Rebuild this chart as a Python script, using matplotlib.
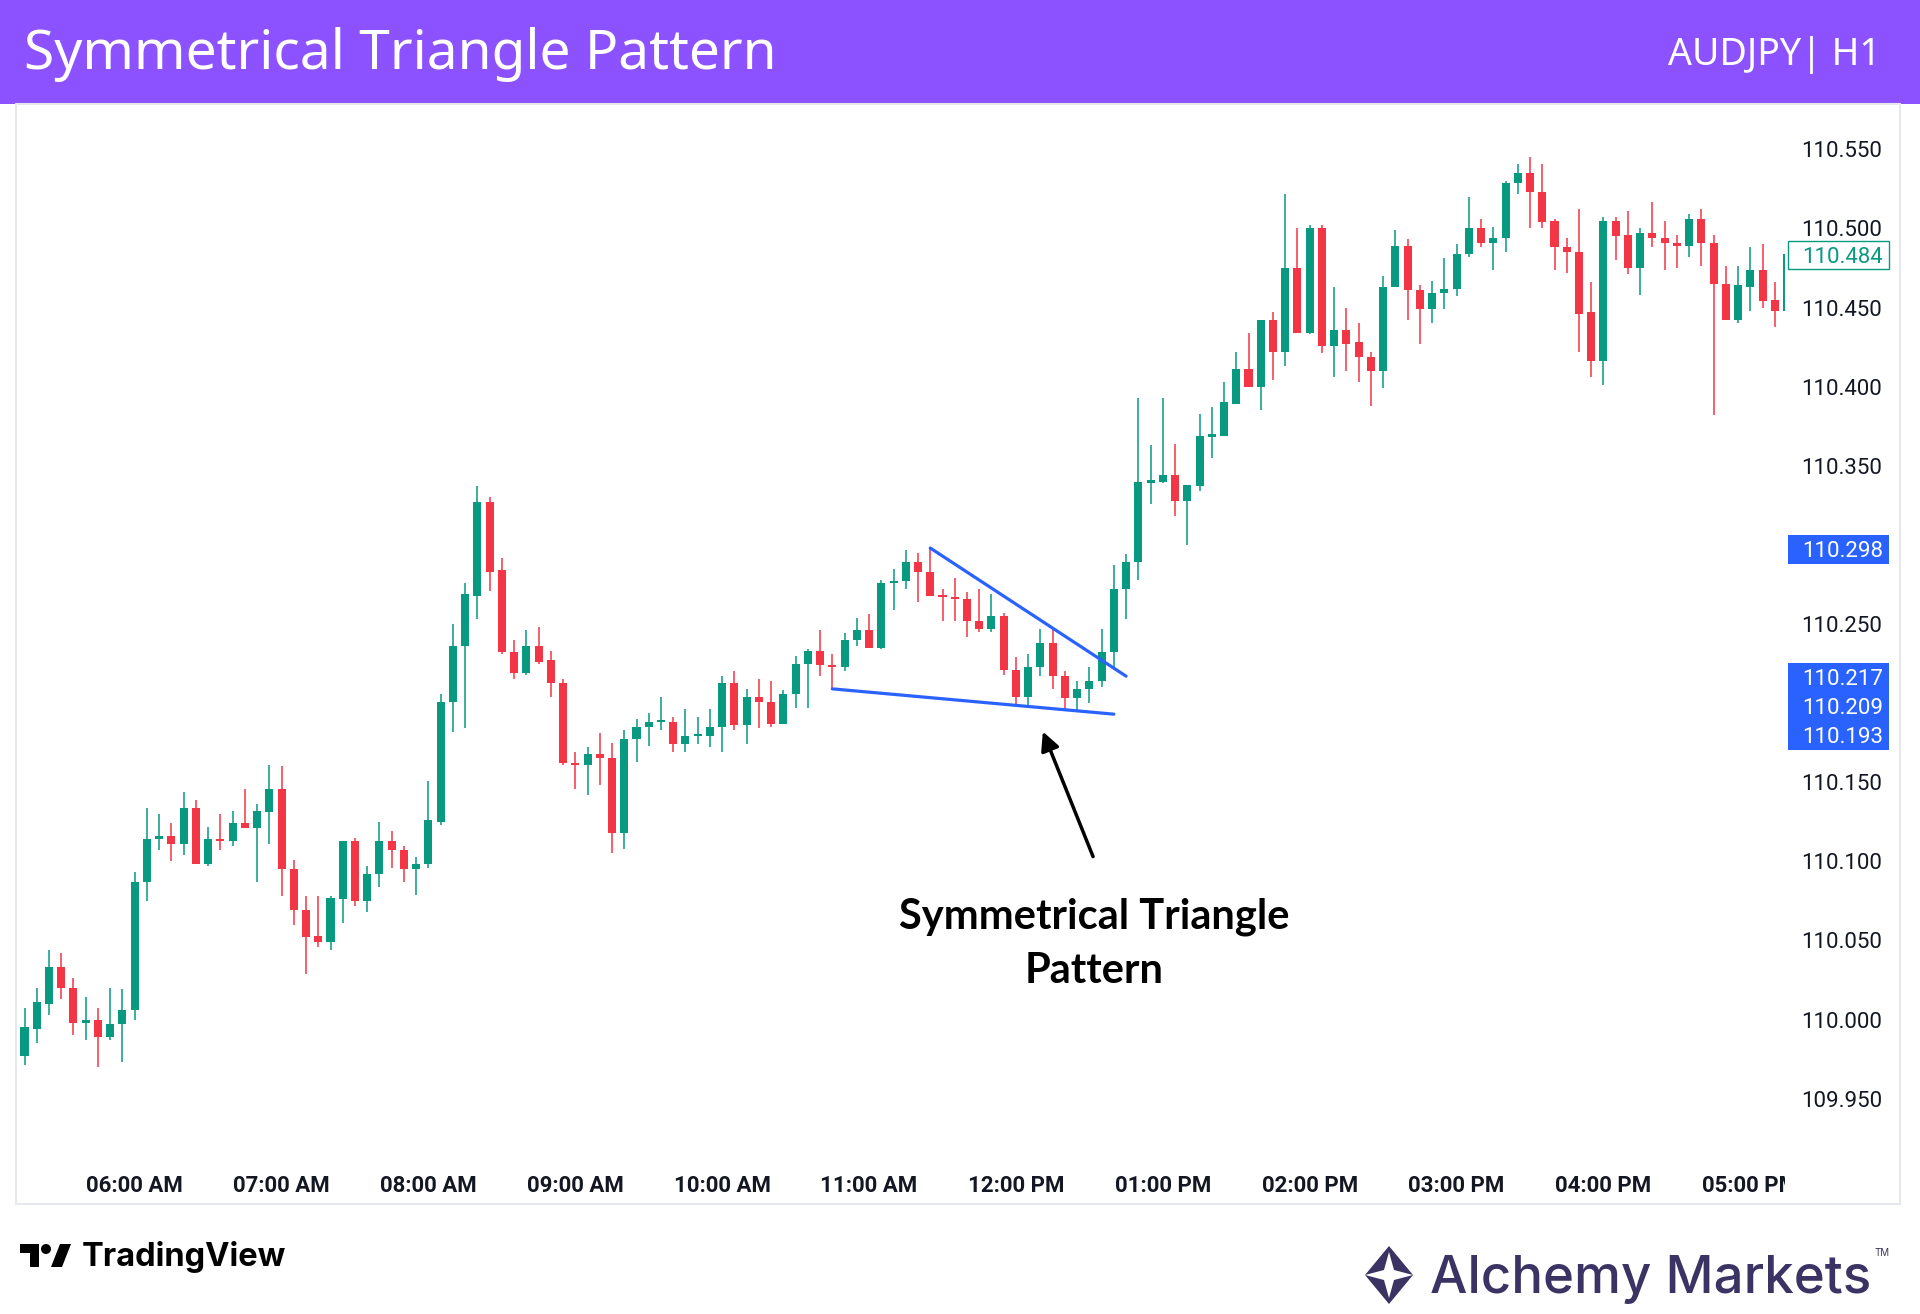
import matplotlib
matplotlib.use('Agg')
import matplotlib.pyplot as plt
import numpy as np
from matplotlib.patches import Rectangle, Polygon, Ellipse
from matplotlib.transforms import blended_transform_factory, Bbox, TransformedBbox

plt.rcParams['font.family'] = ['Roboto', 'DejaVu Sans']

# ---------------- data ----------------
opens = [109.977, 109.994, 110.010, 110.033, 110.020, 109.998, 110.000, 109.989, 109.997, 110.006,
         110.087, 110.114, 110.116, 110.111, 110.134, 110.098, 110.114, 110.113, 110.124, 110.121,
         110.131, 110.146, 110.095, 110.069, 110.053, 110.049, 110.076, 110.113, 110.075, 110.092,
         110.113, 110.107, 110.095, 110.098, 110.125, 110.201, 110.236, 110.268, 110.327, 110.284,
         110.232, 110.219, 110.236, 110.227, 110.213, 110.162, 110.161, 110.168, 110.165, 110.118,
         110.177, 110.185, 110.188, 110.188, 110.174, 110.179, 110.179, 110.185, 110.213, 110.186,
         110.204, 110.201, 110.187, 110.206, 110.225, 110.233, 110.224, 110.223, 110.240, 110.246,
         110.235, 110.276, 110.277, 110.289, 110.283, 110.268, 110.267, 110.266, 110.252, 110.247,
         110.255, 110.221, 110.204, 110.223, 110.238, 110.217, 110.203, 110.209, 110.214, 110.232,
         110.272, 110.289, 110.339, 110.340, 110.344, 110.328, 110.337, 110.368, 110.369, 110.389,
         110.411, 110.400, 110.442, 110.422, 110.475, 110.434, 110.500, 110.426, 110.436, 110.428,
         110.419, 110.410, 110.463, 110.489, 110.461, 110.449, 110.459, 110.462, 110.484, 110.500,
         110.491, 110.494, 110.529, 110.535, 110.523, 110.505, 110.488, 110.485, 110.447, 110.416,
         110.505, 110.496, 110.475, 110.497, 110.494, 110.491, 110.489, 110.506, 110.491, 110.465,
         110.442, 110.463, 110.474, 110.455, 110.448]
highs = [110.007, 110.020, 110.044, 110.042, 110.026, 110.014, 110.007, 110.020, 110.019, 110.093,
         110.134, 110.130, 110.124, 110.144, 110.139, 110.122, 110.130, 110.132, 110.146, 110.136,
         110.161, 110.160, 110.101, 110.078, 110.078, 110.078, 110.113, 110.115, 110.097, 110.125,
         110.119, 110.110, 110.103, 110.151, 110.206, 110.250, 110.276, 110.337, 110.330, 110.292,
         110.240, 110.246, 110.248, 110.233, 110.215, 110.169, 110.172, 110.181, 110.175, 110.183,
         110.190, 110.194, 110.204, 110.191, 110.196, 110.191, 110.196, 110.217, 110.220, 110.209,
         110.215, 110.214, 110.208, 110.230, 110.234, 110.246, 110.231, 110.244, 110.254, 110.256,
         110.278, 110.285, 110.297, 110.295, 110.298, 110.272, 110.279, 110.270, 110.272, 110.269,
         110.257, 110.229, 110.231, 110.247, 110.246, 110.220, 110.214, 110.223, 110.247, 110.287,
         110.294, 110.393, 110.363, 110.393, 110.364, 110.338, 110.383, 110.387, 110.403, 110.422,
         110.434, 110.442, 110.447, 110.522, 110.500, 110.502, 110.502, 110.463, 110.450, 110.440,
         110.422, 110.470, 110.499, 110.493, 110.464, 110.467, 110.481, 110.490, 110.520, 110.506,
         110.501, 110.530, 110.541, 110.545, 110.541, 110.506, 110.494, 110.512, 110.466, 110.507,
         110.507, 110.511, 110.500, 110.517, 110.505, 110.496, 110.509, 110.512, 110.496, 110.476,
         110.476, 110.488, 110.490, 110.466, 110.484]
lows = [109.971, 109.985, 110.003, 110.013, 109.990, 109.987, 109.970, 109.987, 109.973, 110.000,
        110.075, 110.107, 110.100, 110.104, 110.098, 110.097, 110.107, 110.110, 110.121, 110.087,
        110.111, 110.078, 110.060, 110.029, 110.046, 110.044, 110.061, 110.072, 110.068, 110.084,
        110.096, 110.087, 110.079, 110.096, 110.123, 110.182, 110.184, 110.253, 110.271, 110.231,
        110.215, 110.218, 110.225, 110.204, 110.161, 110.146, 110.142, 110.148, 110.105, 110.108,
        110.163, 110.173, 110.183, 110.169, 110.169, 110.174, 110.172, 110.169, 110.183, 110.174,
        110.184, 110.185, 110.187, 110.197, 110.197, 110.217, 110.208, 110.220, 110.236, 110.235,
        110.234, 110.259, 110.272, 110.264, 110.268, 110.252, 110.252, 110.242, 110.245, 110.245,
        110.218, 110.199, 110.197, 110.217, 110.209, 110.195, 110.195, 110.200, 110.210, 110.221,
        110.253, 110.278, 110.326, 110.339, 110.318, 110.300, 110.334, 110.355, 110.369, 110.389,
        110.400, 110.385, 110.404, 110.413, 110.434, 110.433, 110.421, 110.406, 110.410, 110.403,
        110.388, 110.399, 110.463, 110.442, 110.427, 110.440, 110.449, 110.457, 110.482, 110.488,
        110.474, 110.485, 110.522, 110.500, 110.500, 110.474, 110.472, 110.422, 110.406, 110.401,
        110.480, 110.471, 110.458, 110.488, 110.474, 110.475, 110.482, 110.476, 110.382, 110.442,
        110.440, 110.448, 110.450, 110.438, 110.448]
closes = [109.995, 110.011, 110.033, 110.020, 109.998, 110.000, 109.989, 109.997, 110.006, 110.087,
          110.114, 110.116, 110.111, 110.134, 110.098, 110.114, 110.113, 110.124, 110.121, 110.132,
          110.146, 110.095, 110.069, 110.052, 110.049, 110.077, 110.113, 110.075, 110.092, 110.113,
          110.107, 110.095, 110.098, 110.126, 110.201, 110.236, 110.269, 110.327, 110.283, 110.232,
          110.219, 110.236, 110.226, 110.213, 110.162, 110.161, 110.168, 110.165, 110.118, 110.177,
          110.185, 110.188, 110.188, 110.174, 110.179, 110.179, 110.185, 110.213, 110.186, 110.204,
          110.201, 110.187, 110.206, 110.225, 110.233, 110.224, 110.223, 110.240, 110.246, 110.235,
          110.276, 110.277, 110.289, 110.283, 110.268, 110.267, 110.266, 110.252, 110.247, 110.255,
          110.221, 110.204, 110.223, 110.238, 110.217, 110.203, 110.209, 110.214, 110.232, 110.272,
          110.289, 110.340, 110.341, 110.344, 110.328, 110.338, 110.369, 110.370, 110.390, 110.411,
          110.400, 110.442, 110.422, 110.475, 110.434, 110.500, 110.426, 110.436, 110.427, 110.419,
          110.410, 110.463, 110.489, 110.461, 110.449, 110.459, 110.462, 110.484, 110.500, 110.491,
          110.494, 110.529, 110.535, 110.523, 110.504, 110.488, 110.485, 110.446, 110.416, 110.505,
          110.495, 110.475, 110.497, 110.494, 110.491, 110.489, 110.506, 110.491, 110.465, 110.442,
          110.464, 110.474, 110.454, 110.448, 110.484]

time_ticks = [9, 21, 33, 45, 57, 69, 81, 93, 105, 117, 129, 141]
time_labels = ['06:00 AM', '07:00 AM', '08:00 AM', '09:00 AM', '10:00 AM', '11:00 AM',
               '12:00 PM', '01:00 PM', '02:00 PM', '03:00 PM', '04:00 PM', '05:00 PM']
price_ticks = [109.95, 110.00, 110.05, 110.10, 110.15, 110.20, 110.25, 110.30,
               110.35, 110.40, 110.45, 110.50, 110.55]

upper_line_x = [74, 90]
upper_line_y = [110.298, 110.217]
lower_line_x = [66, 89]
lower_line_y = [110.209, 110.193]
line_labels = [110.298, 110.217, 110.209, 110.193]
last_price = 110.484

annot_text = 'Symmetrical Triangle\nPattern'
annot_pos = (87.4, 110.048)
arrow_tip = (83.2, 110.182)
arrow_tail = (87.3, 110.103)

# ---------------- style ----------------
W, H, DPI = 1920, 1314, 100
GREEN = '#089981'
RED = '#F23645'
BLUE = '#2962FF'
PURPLE = '#8C52FF'
TEXT = '#131722'
NAVY = '#3B3363'


def fx(px):
    return px / W


def fy(py):
    return 1 - py / H


fig = plt.figure(figsize=(W / DPI, H / DPI), dpi=DPI)
fig.patch.set_facecolor('white')

# header bar
fig.add_artist(Rectangle((0, fy(104)), 1, 104 / H, transform=fig.transFigure,
                         facecolor=PURPLE, edgecolor='none', zorder=0))
fig.text(fx(24), fy(55), 'Symmetrical Triangle Pattern', color='white', fontsize=39.7,
         family=['Noto Sans', 'DejaVu Sans'], ha='left', va='center')
fig.text(fx(1881), fy(55), 'AUDJPY| H1', color='white', fontsize=27,
         family=['Noto Sans', 'DejaVu Sans'], ha='right', va='center')

# chart frame
fig.add_artist(Rectangle((fx(16), fy(1204)), fx(1900 - 16), (1204 - 104) / H,
                         transform=fig.transFigure, facecolor='none',
                         edgecolor='#E6E8EE', lw=1.5, zorder=0))

AX_L, AX_R, AX_T, AX_B = 16, 1785, 104, 1160
ax = fig.add_axes([fx(AX_L), fy(AX_B), fx(AX_R - AX_L), (AX_B - AX_T) / H])
ax.set_facecolor('none')

o = np.array(opens)
h = np.array(highs)
l = np.array(lows)
c = np.array(closes)
idx = np.arange(len(o))
cols = np.where(c >= o, GREEN, RED)

ax.vlines(idx, l, h, colors=cols, lw=1.1, zorder=2)
body_bottom = np.minimum(o, c)
body_h = np.maximum(np.abs(c - o), 0.0012)
ax.bar(idx, body_h, bottom=body_bottom, width=0.66, color=cols, edgecolor='none', zorder=3)

# triangle lines
ax.plot(upper_line_x, upper_line_y, color=BLUE, lw=2.3, zorder=4, solid_capstyle='round')
ax.plot(lower_line_x, lower_line_y, color=BLUE, lw=2.3, zorder=4, solid_capstyle='round')

# annotation
ax.text(annot_pos[0], annot_pos[1], annot_text, ha='center', va='center', fontsize=30,
        fontweight='bold', family=['Lato', 'DejaVu Sans'], color='black',
        linespacing=1.5, zorder=5)
ax.annotate('', xy=arrow_tip, xytext=arrow_tail,
            arrowprops=dict(arrowstyle='-|>', lw=2.5, color='black', mutation_scale=28,
                            shrinkA=0, shrinkB=0), zorder=5)

ax.set_xlim((AX_L - 24.5) / 12.24, (AX_R - 24.5) / 12.24)
ax.set_ylim(110.55 - (AX_B - 149.3) * 0.000632, 110.55 + (149.3 - AX_T) * 0.000632)

for s in ax.spines.values():
    s.set_visible(False)
ax.set_xticks([])

# price scale label boxes positions (stacked so they do not overlap)
BOX_X0, BOX_X1, BOX_H = 1788, 1889, 29


def price_to_py(p):
    disp = ax.transData.transform((0, p))[1]
    return H - disp


pys = [price_to_py(p) for p in line_labels]
order = np.argsort(pys)
placed = {}
prev = None
for i in order:
    y = pys[i]
    if prev is not None and y < prev + BOX_H:
        y = prev + BOX_H
    placed[i] = y + 1.5
    prev = y

# axis tick labels; the ones hidden behind a price box are not drawn (as in the original)
box_spans = [(placed[i] - BOX_H / 2, placed[i] + BOX_H / 2) for i in range(len(line_labels))]
lp = price_to_py(last_price) + 1.5
box_spans.append((lp - 14, lp + 14))
shown = []
for p in price_ticks:
    yy = price_to_py(p)
    if all(not (a - 9 < yy < b + 9) for a, b in box_spans):
        shown.append(p)

ax.yaxis.tick_right()
ax.set_yticks(shown)
ax.set_yticklabels(['%.3f' % p for p in shown])
ax.tick_params(axis='y', length=0, pad=12, labelsize=16, labelcolor=TEXT)

# time labels, clipped at the price scale like the original
clip = TransformedBbox(Bbox([[0, 0], [fx(AX_R), 1]]), fig.transFigure)
tr = blended_transform_factory(ax.transData, fig.transFigure)
for t, lab in zip(time_ticks, time_labels):
    txt = fig.text(t, fy(1186), lab, transform=tr, ha='center', va='center',
                   fontsize=16, fontweight='bold', color=TEXT)
    txt.set_clip_box(clip)
    txt.set_clip_on(True)

for i, p in enumerate(line_labels):
    yc = placed[i]
    fig.add_artist(Rectangle((fx(BOX_X0), fy(yc + BOX_H / 2)), fx(BOX_X1 - BOX_X0), BOX_H / H,
                             transform=fig.transFigure, facecolor=BLUE, edgecolor='none', zorder=5))
    fig.text(fx(1802), fy(yc + 2), '%.3f' % p, color='white', fontsize=16, ha='left',
             va='center', zorder=6)

fig.add_artist(Rectangle((fx(BOX_X0), fy(lp + 14)), fx(BOX_X1 - BOX_X0), 28 / H,
                         transform=fig.transFigure, facecolor='white', edgecolor=GREEN,
                         lw=1.0, zorder=5))
fig.text(fx(1802), fy(lp + 2), '%.3f' % last_price, color=GREEN, fontsize=16, ha='left',
         va='center', zorder=6)

# TradingView logo
fig.add_artist(Polygon([(fx(20), fy(1244)), (fx(39), fy(1244)), (fx(39), fy(1267)),
                        (fx(30), fy(1267)), (fx(30), fy(1253)), (fx(20), fy(1253))],
                       closed=True, transform=fig.transFigure, facecolor='black',
                       edgecolor='none'))
fig.add_artist(Ellipse((fx(46), fy(1249)), 10 / W, 10 / H, transform=fig.transFigure,
                       facecolor='black', edgecolor='none'))
fig.add_artist(Polygon([(fx(51), fy(1267)), (fx(60), fy(1244)), (fx(71), fy(1244)),
                        (fx(62), fy(1267))], closed=True, transform=fig.transFigure,
                       facecolor='black', edgecolor='none'))
fig.text(fx(82), fy(1266), 'TradingView', fontsize=23.5, fontweight='bold',
         family=['Inter', 'DejaVu Sans'], color='black', ha='left', va='baseline')

# Alchemy Markets logo
cx, cy, hw, hh = 1389, 1275, 24, 29
fig.add_artist(Polygon([(fx(cx - hw), fy(cy)), (fx(cx), fy(cy - hh)), (fx(cx + hw), fy(cy)),
                        (fx(cx), fy(cy + hh))], closed=True, transform=fig.transFigure,
                       facecolor=NAVY, edgecolor='none'))
star = [(cx - hw, cy), (cx - 5, cy - 5), (cx, cy - hh + 6), (cx + 5, cy - 5),
        (cx + hw, cy), (cx + 5, cy + 5), (cx, cy + hh - 6), (cx - 5, cy + 5)]
fig.add_artist(Polygon([(fx(a), fy(b)) for a, b in star], closed=True,
                       transform=fig.transFigure, facecolor='white', edgecolor='none'))
fig.text(fx(1430), fy(1293), 'Alchemy Markets', fontsize=38, fontweight='medium',
         family=['Inter', 'DejaVu Sans'], color=NAVY, ha='left', va='baseline')
fig.text(fx(1874), fy(1256), 'TM', fontsize=7, family=['Inter', 'DejaVu Sans'],
         color=NAVY, ha='left', va='baseline')

fig.savefig('out.png', dpi=DPI, facecolor='white')
